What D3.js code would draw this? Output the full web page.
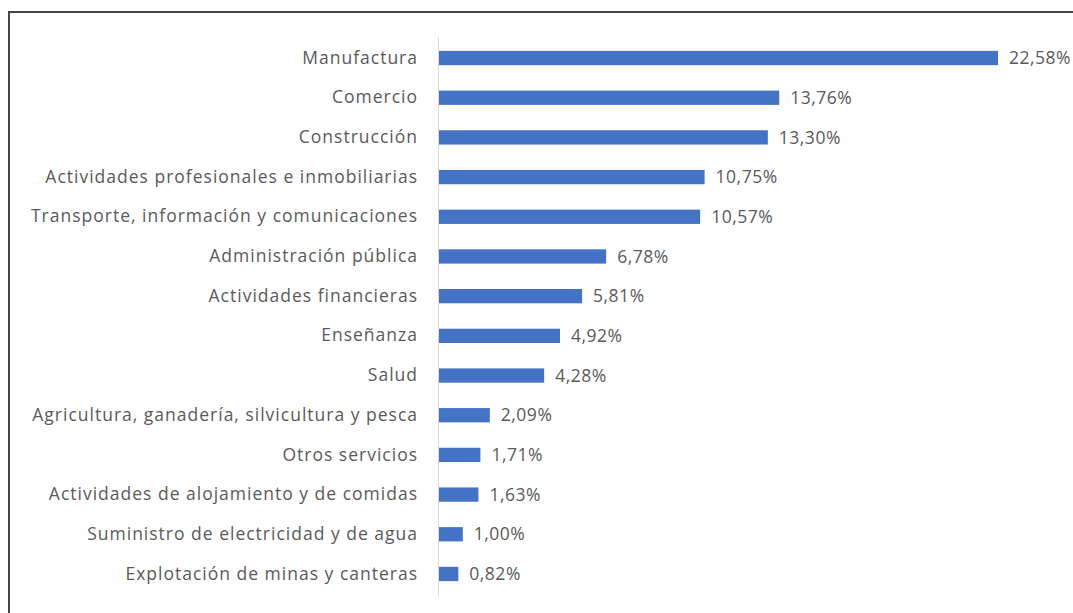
<!DOCTYPE html>
<html>
<head>
<meta charset="utf-8">
<script src="https://cdn.jsdelivr.net/npm/d3@7"></script>
<style>
  html, body { margin: 0; padding: 0; background: #fff; overflow: hidden; }
  svg { display: block; }
  .lbl { font-family: "Open Sans", "Noto Sans", sans-serif; fill: #5a5a5a; letter-spacing: 1px; }
  .val { letter-spacing: 0.5px; }
</style>
</head>
<body>
<svg id="chart" width="1073" height="613"></svg>
<script>
// Participación por sector económico (%)
const sectors = [
  "Manufactura",
  "Comercio",
  "Construcción",
  "Actividades profesionales e inmobiliarias",
  "Transporte, información y comunicaciones",
  "Administración pública",
  "Actividades financieras",
  "Enseñanza",
  "Salud",
  "Agricultura, ganadería, silvicultura y pesca",
  "Otros servicios",
  "Actividades de alojamiento y de comidas",
  "Suministro de electricidad y de agua",
  "Explotación de minas y canteras"
];
const shares = [22.58, 13.76, 13.30, 10.75, 10.57, 6.78, 5.81, 4.92, 4.28, 2.09, 1.71, 1.63, 1.00, 0.82];

const svg = d3.select("#chart");
const W = 1073, H = 613;

// outer frame (runs off the right and bottom edges)
svg.append("rect")
  .attr("x", 9).attr("y", 12)
  .attr("width", W + 40).attr("height", H + 40)
  .attr("fill", "none")
  .attr("stroke", "#454545")
  .attr("stroke-width", 2);

const x = d3.scaleLinear().domain([0, 25]).range([438, 1058]);
const y = d3.scaleBand().domain(sectors).range([37, 595])
  .paddingInner(0.64).paddingOuter(0.35);

const es = d3.formatLocale({ decimal: ",", thousands: ".", grouping: [3], currency: ["", "€"] });
const fmt = v => es.format(".2f")(v) + "%";

const data = sectors.map((s, i) => ({ s, v: shares[i] }));

// bars
svg.append("g").selectAll("rect")
  .data(data).join("rect")
  .attr("x", x(0))
  .attr("y", d => y(d.s))
  .attr("width", d => x(d.v) - x(0))
  .attr("height", y.bandwidth())
  .attr("fill", "#4472c4");

// category axis
const yAxis = svg.append("g")
  .attr("transform", `translate(${x(0)},0)`)
  .call(d3.axisLeft(y).tickSize(0).tickPadding(20));
yAxis.select(".domain").attr("stroke", "#d9d9d9").attr("stroke-width", 1);
yAxis.selectAll(".tick text")
  .attr("class", "lbl")
  .style("font-size", "17.5px");

// value labels
svg.append("g").selectAll("text")
  .data(data).join("text")
  .attr("class", "lbl val")
  .attr("x", d => x(d.v) + 11)
  .attr("y", d => y(d.s) + y.bandwidth() / 2)
  .attr("dy", "0.35em")
  .style("font-size", "17.5px")
  .text(d => fmt(d.v));
</script>
</body>
</html>
